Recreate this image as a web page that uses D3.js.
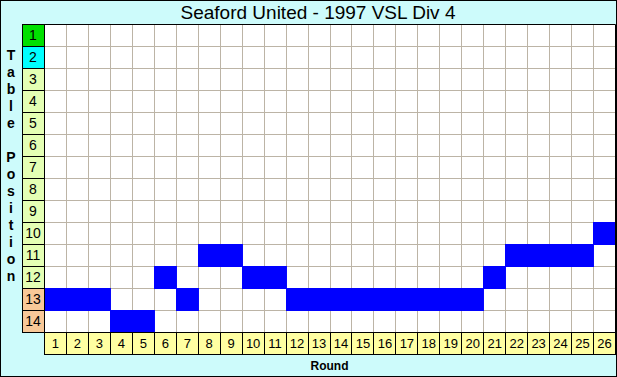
<!DOCTYPE html>
<html>
<head>
<meta charset="utf-8">
<script src="https://cdn.jsdelivr.net/npm/d3@7"></script>
<style>
  body { margin: 0; background: #fff; }
  svg { display: block; font-family: "Liberation Sans", Arial, sans-serif; }
</style>
</head>
<body>
<svg id="chart" width="617" height="377"></svg>
<script>
// data
var title = "Seaford United - 1997 VSL Div 4";
var rounds = d3.range(1, 27);
var positions = [13, 13, 13, 14, 14, 12, 13, 11, 11, 12, 12, 13, 13, 13, 13, 13, 13, 13, 13, 13, 12, 11, 11, 11, 11, 10];
var tablePos = d3.range(1, 15);
var yTitle = "Table Position";
var xTitle = "Round";

var svg = d3.select("#chart"),
    W = +svg.attr("width"),
    H = +svg.attr("height"),
    pLeft = 44, pRight = 615, pTop = 24, pBottom = 332;

// background
svg.append("rect")
   .attr("x", 0.5).attr("y", 0.5)
   .attr("width", W - 1).attr("height", H - 1)
   .attr("fill", "#cdfbfb")
   .attr("stroke", "#000");

var x = d3.scaleBand().domain(rounds).range([pLeft, pRight]),
    y = d3.scaleBand().domain(tablePos).range([pTop, pBottom]);

// plot area
svg.append("rect")
   .attr("x", pLeft).attr("y", pTop)
   .attr("width", pRight - pLeft).attr("height", pBottom - pTop)
   .attr("fill", "#fff");

// grid
svg.append("g").selectAll("line")
   .data(rounds.slice(1))
   .join("line")
   .attr("x1", function(d){ return Math.round(x(d)) + 0.5; })
   .attr("x2", function(d){ return Math.round(x(d)) + 0.5; })
   .attr("y1", pTop).attr("y2", pBottom)
   .attr("stroke", "#bcb4a6");
svg.append("g").selectAll("line")
   .data(tablePos.slice(1))
   .join("line")
   .attr("y1", function(d){ return y(d) + 0.5; })
   .attr("y2", function(d){ return y(d) + 0.5; })
   .attr("x1", pLeft).attr("x2", pRight)
   .attr("stroke", "#bcb4a6");

// position bars
svg.append("g").selectAll("rect")
   .data(positions)
   .join("rect")
   .attr("x", function(d, i){ return Math.round(x(rounds[i])); })
   .attr("y", function(d){ return y(d); })
   .attr("width", x.bandwidth() + 1)
   .attr("height", y.bandwidth() + 1)
   .attr("fill", "#0000ff");

// plot border
svg.append("path")
   .attr("d", "M" + (pLeft - 22) + "," + (pTop + 0.5) + "H" + (pRight + 0.5) + "V" + pBottom)
   .attr("fill", "none")
   .attr("stroke", "#000");

// y labels
var posColor = function(p){
    if (p == 1) return "#00e000";
    if (p == 2) return "#00ffff";
    if (p >= 13) return "#f8c898";
    return "#e4ffb4";
};
var yl = svg.append("g").selectAll("g")
   .data(tablePos)
   .join("g");
yl.append("rect")
  .attr("x", pLeft - 22 + 0.5)
  .attr("y", function(d){ return y(d) + 0.5; })
  .attr("width", 22).attr("height", y.bandwidth())
  .attr("fill", function(d){ return posColor(d); })
  .attr("stroke", "#000");
yl.append("text")
  .attr("x", pLeft - 11)
  .attr("y", function(d){ return y(d) + y.bandwidth() / 2 + 5; })
  .attr("text-anchor", "middle")
  .attr("font-size", 14)
  .text(function(d){ return d; });

// x labels
var xl = svg.append("g").selectAll("g")
   .data(rounds)
   .join("g");
xl.append("rect")
  .attr("x", function(d){ return Math.round(x(d)) + 0.5; })
  .attr("y", pBottom + 0.5)
  .attr("width", function(d){ return Math.round(x(d) + x.bandwidth()) - Math.round(x(d)); })
  .attr("height", 22)
  .attr("fill", "#ffffa2")
  .attr("stroke", "#000");
xl.append("text")
  .attr("x", function(d){ return x(d) + x.bandwidth() / 2 + 0.5; })
  .attr("y", pBottom + 16)
  .attr("text-anchor", "middle")
  .attr("font-size", 13)
  .text(function(d){ return d; });

// titles
svg.append("text")
   .attr("x", 318).attr("y", 19)
   .attr("text-anchor", "middle")
   .attr("font-size", 19)
   .text(title);

svg.append("text")
   .attr("x", (pLeft + pRight) / 2).attr("y", 370)
   .attr("text-anchor", "middle")
   .attr("font-size", 12)
   .attr("font-weight", "bold")
   .text(xTitle);

svg.append("g").selectAll("text")
   .data(yTitle.split(""))
   .join("text")
   .attr("x", 11)
   .attr("y", function(d, i){ return 60 + i * 17; })
   .attr("text-anchor", "middle")
   .attr("font-size", 14)
   .attr("font-weight", "bold")
   .text(function(d){ return d; });
</script>
</body>
</html>
